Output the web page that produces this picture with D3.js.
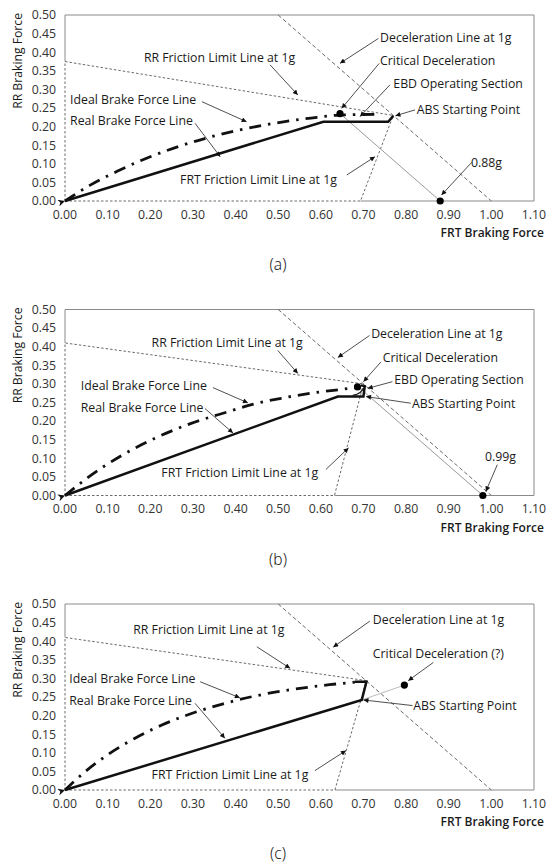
<!DOCTYPE html>
<html>
<head>
<meta charset="utf-8">
<script src="https://cdn.jsdelivr.net/npm/d3@7"></script>
<style>
  body { margin: 0; background: #fff; }
  svg text { font-family: "Open Sans", "Noto Sans", sans-serif; fill: #1a1a1a; }
</style>
</head>
<body>
<svg id="chart" width="551" height="865"></svg>
<script>
// tick values / labels
const xTicks = [0, 0.1, 0.2, 0.3, 0.4, 0.5, 0.6, 0.7, 0.8, 0.9, 1.0, 1.1];
const yTicks = [0, 0.05, 0.1, 0.15, 0.2, 0.25, 0.3, 0.35, 0.4, 0.45, 0.5];
const captions = ['(a)', '(b)', '(c)'];
const xTitle = 'FRT Braking Force';
const yTitle = 'RR Braking Force';

// deceleration line at 1g (visible part)
const decelLine = [[0.5, 0.5], [1.0, 0]];

// panel (a)
const idealA = [[0, 0], [0.058, 0.042], [0.121, 0.079], [0.187, 0.113], [0.257, 0.143], [0.331, 0.169],
  [0.409, 0.191], [0.491, 0.209], [0.577, 0.223], [0.645, 0.231], [0.739, 0.233]];
const realA = [[0, 0], [0.606, 0.213], [0.758, 0.213], [0.77, 0.229]];
const rrLimitA = [[0, 0], [0, 0.375], [0.77, 0.23]];
const frtLimitA = [[0, 0], [0.693, 0], [0.77, 0.23]];
const criticalA = [0.645, 0.235];
const gLineA = [[0.645, 0.235], [0.88, 0]];
const gPointA = [0.88, 0];

// panel (b)
const idealB = [[0, 0], [0.052, 0.047], [0.129, 0.105], [0.211, 0.154], [0.296, 0.194], [0.382, 0.225],
  [0.44, 0.245], [0.51, 0.262], [0.59, 0.277], [0.665, 0.288], [0.686, 0.292]];
const realB = [[0, 0], [0.64, 0.266], [0.70, 0.266], [0.703, 0.294], [0.694, 0.296]];
const ebdB = [[0.675, 0.269], [0.692, 0.277], [0.702, 0.29]];
const rrLimitB = [[0, 0], [0, 0.41], [0.70, 0.30]];
const frtLimitB = [[0, 0], [0.632, 0], [0.70, 0.30]];
const criticalB = [0.686, 0.292];
const gLineB = [[0.69, 0.29], [0.98, 0]];
const gPointB = [0.98, 0];

// panel (c)
const idealC = [[0, 0], [0.049, 0.051], [0.103, 0.097], [0.162, 0.138], [0.226, 0.174], [0.295, 0.205],
  [0.369, 0.231], [0.447, 0.253], [0.531, 0.27], [0.62, 0.283], [0.68, 0.29]];
const realC = [[0, 0], [0.696, 0.242], [0.707, 0.291], [0.68, 0.291]];
const rrLimitC = [[0, 0], [0, 0.41], [0.707, 0.294]];
const frtLimitC = [[0, 0], [0.633, 0], [0.707, 0.294]];
const criticalC = [0.796, 0.282];
const gLineC = [[0.696, 0.242], [0.796, 0.282]];

// annotations: label, text anchor (tx,ty), arrow from (ax,ay) to (bx,by), in data units
const notesA = [
  {label: 'RR Friction Limit Line at 1g', tx: 0.185, ty: 0.386, ax: 0.481, ay: 0.366, bx: 0.546, by: 0.285},
  {label: 'Deceleration Line at 1g', tx: 0.739, ty: 0.44, ax: 0.735, ay: 0.437, bx: 0.645, by: 0.370},
  {label: 'Critical Deceleration', tx: 0.739, ty: 0.376, ax: 0.737, ay: 0.370, bx: 0.649, by: 0.249},
  {label: 'EBD Operating Section', tx: 0.770, ty: 0.314, ax: 0.762, ay: 0.312, bx: 0.692, by: 0.227},
  {label: 'ABS Starting Point', tx: 0.825, ty: 0.245, ax: 0.821, ay: 0.245, bx: 0.775, by: 0.229},
  {label: '0.88g', tx: 0.952, ty: 0.104, ax: 0.954, ay: 0.104, bx: 0.883, by: 0.016},
  {label: 'FRT Friction Limit Line at 1g', tx: 0.270, ty: 0.056, ax: 0.661, ay: 0.070, bx: 0.727, by: 0.119},
  {label: 'Ideal Brake Force Line', tx: 0.012, ty: 0.273, ax: 0.321, ay: 0.267, bx: 0.426, by: 0.213},
  {label: 'Real Brake Force Line', tx: 0.012, ty: 0.216, ax: 0.305, ay: 0.209, bx: 0.364, by: 0.119}
];
const notesB = [
  {label: 'RR Friction Limit Line at 1g', tx: 0.203, ty: 0.410, ax: 0.499, ay: 0.390, bx: 0.546, by: 0.328},
  {label: 'Deceleration Line at 1g', tx: 0.718, ty: 0.435, ax: 0.714, ay: 0.430, bx: 0.640, by: 0.371},
  {label: 'Critical Deceleration', tx: 0.745, ty: 0.371, ax: 0.741, ay: 0.359, bx: 0.700, by: 0.306},
  {label: 'EBD Operating Section', tx: 0.772, ty: 0.310, ax: 0.768, ay: 0.306, bx: 0.710, by: 0.288},
  {label: 'ABS Starting Point', tx: 0.814, ty: 0.248, ax: 0.811, ay: 0.248, bx: 0.706, by: 0.266},
  {label: '0.99g', tx: 0.985, ty: 0.105, ax: 1.014, ay: 0.083, bx: 0.987, by: 0.011},
  {label: 'FRT Friction Limit Line at 1g', tx: 0.226, ty: 0.061, ax: 0.612, ay: 0.070, bx: 0.665, by: 0.128},
  {label: 'Ideal Brake Force Line', tx: 0.037, ty: 0.294, ax: 0.347, ay: 0.290, bx: 0.429, by: 0.249},
  {label: 'Real Brake Force Line', tx: 0.037, ty: 0.237, ax: 0.328, ay: 0.234, bx: 0.394, by: 0.168}
];
const notesC = [
  {label: 'RR Friction Limit Line at 1g', tx: 0.160, ty: 0.432, ax: 0.450, ay: 0.385, bx: 0.528, by: 0.327},
  {label: 'Deceleration Line at 1g', tx: 0.722, ty: 0.457, ax: 0.715, ay: 0.454, bx: 0.629, by: 0.384},
  {label: 'Critical Deceleration (?)', tx: 0.722, ty: 0.367, ax: 0.864, ay: 0.343, bx: 0.805, by: 0.294},
  {label: 'ABS Starting Point', tx: 0.817, ty: 0.226, ax: 0.815, ay: 0.227, bx: 0.700, by: 0.242},
  {label: 'FRT Friction Limit Line at 1g', tx: 0.203, ty: 0.040, ax: 0.586, ay: 0.052, bx: 0.659, by: 0.106},
  {label: 'Ideal Brake Force Line', tx: 0.010, ty: 0.298, ax: 0.317, ay: 0.291, bx: 0.410, by: 0.248},
  {label: 'Real Brake Force Line', tx: 0.010, ty: 0.239, ax: 0.305, ay: 0.233, bx: 0.375, by: 0.139}
];

const panels = [
  {ideal: idealA, real: realA, rr: rrLimitA, frt: frtLimitA, critical: criticalA, gLine: gLineA, gPoint: gPointA, ebd: null, notes: notesA},
  {ideal: idealB, real: realB, rr: rrLimitB, frt: frtLimitB, critical: criticalB, gLine: gLineB, gPoint: gPointB, ebd: ebdB, notes: notesB},
  {ideal: idealC, real: realC, rr: rrLimitC, frt: frtLimitC, critical: criticalC, gLine: gLineC, gPoint: null, ebd: null, notes: notesC}
];

const panelTops = [15, 309.5, 604];
const left = 65, plotW = 469, plotH = 186;

const svg = d3.select('#chart');

const defs = svg.append('defs');
defs.append('marker')
  .attr('id', 'arrow')
  .attr('viewBox', '0 0 10 10')
  .attr('refX', 10).attr('refY', 5)
  .attr('markerWidth', 7).attr('markerHeight', 5)
  .attr('markerUnits', 'userSpaceOnUse')
  .attr('orient', 'auto')
  .append('path').attr('d', 'M0,0L10,5L0,10z').attr('fill', '#111');
defs.append('marker')
  .attr('id', 'startArrow')
  .attr('viewBox', '0 0 10 10')
  .attr('refX', 0).attr('refY', 5)
  .attr('markerWidth', 10).attr('markerHeight', 7)
  .attr('markerUnits', 'userSpaceOnUse')
  .attr('orient', 'auto-start-reverse')
  .append('path').attr('d', 'M0,5L10,0L7,5L10,10z').attr('fill', '#111');

panels.forEach((p, i) => {
  const top = panelTops[i];
  const x = d3.scaleLinear().domain([0, 1.1]).range([left, left + plotW]);
  const y = d3.scaleLinear().domain([0, 0.5]).range([top + plotH, top]);
  const g = svg.append('g');
  const line = d3.line().x(d => x(d[0])).y(d => y(d[1]));
  const curve = d3.line().x(d => x(d[0])).y(d => y(d[1])).curve(d3.curveMonotoneX);

  // frame (solid parts; the parts on the axes up to the friction limits are dotted)
  const frame = [
    [[0, p.rr[1][1]], [0, 0.5]],
    [[0, 0.5], [1.1, 0.5]],
    [[1.1, 0.5], [1.1, 0]],
    [[p.frt[1][0], 0], [1.1, 0]]
  ];
  g.selectAll('.frame').data(frame).join('path')
    .attr('class', 'frame')
    .attr('d', line)
    .attr('fill', 'none').attr('stroke', '#8a8a8a').attr('stroke-width', 1);

  // tick labels
  g.append('g').selectAll('text').data(xTicks).join('text')
    .attr('x', d => x(d)).attr('y', top + plotH + 13.5)
    .attr('dy', '0.35em').attr('text-anchor', 'middle')
    .attr('font-size', 12.3).style('fill', '#333')
    .text(d => d3.format('.2f')(d));
  g.append('g').selectAll('text').data(yTicks).join('text')
    .attr('x', left - 9).attr('y', d => y(d))
    .attr('dy', '0.35em').attr('text-anchor', 'end')
    .attr('font-size', 12.3).style('fill', '#333')
    .text(d => d3.format('.2f')(d));

  // axis titles
  g.append('text')
    .attr('x', 544).attr('y', top + plotH + 32)
    .attr('dy', '0.35em').attr('text-anchor', 'end')
    .attr('font-size', 12).attr('font-weight', 600)
    .text(xTitle);
  g.append('text')
    .attr('transform', `translate(22,${top - 2}) rotate(-90)`)
    .attr('text-anchor', 'end')
    .attr('font-size', 12.2)
    .text(yTitle);

  // caption
  g.append('text')
    .attr('x', 278).attr('y', top + plotH + 64)
    .attr('dy', '0.35em').attr('text-anchor', 'middle')
    .attr('font-size', 15.5).attr('font-weight', 300)
    .style('font-family', '"Noto Sans", sans-serif')
    .text(captions[i]);

  // friction limit lines (dotted)
  [p.rr, p.frt].forEach(seg => {
    g.append('path').attr('d', line(seg))
      .attr('fill', 'none').attr('stroke', '#6a6a6a')
      .attr('stroke-width', 1).attr('stroke-dasharray', '2.5,2');
  });

  // deceleration line at 1g
  g.append('path').attr('d', line(decelLine))
    .attr('fill', 'none').attr('stroke', '#6a6a6a')
    .attr('stroke-width', 1).attr('stroke-dasharray', '4,2.5');

  // g line / critical link
  g.append('path').attr('d', line(p.gLine))
    .attr('fill', 'none').attr('stroke', i === 2 ? '#bbb' : '#9a9a9a')
    .attr('stroke-width', 1);

  // ideal brake force line
  g.append('path').attr('d', curve(p.ideal))
    .attr('fill', 'none').attr('stroke', '#111')
    .attr('stroke-width', 2.8).attr('stroke-dasharray', '12,7,2.5,7');

  // real brake force line
  g.append('path').attr('d', line(p.real))
    .attr('fill', 'none').attr('stroke', '#111')
    .attr('stroke-width', 2.5).attr('stroke-linejoin', 'miter')
    .attr('marker-start', 'url(#startArrow)');

  if (p.ebd) {
    g.append('path').attr('d', curve(p.ebd))
      .attr('fill', 'none').attr('stroke', '#111').attr('stroke-width', 1.2);
  }

  // points
  const pts = [p.critical].concat(p.gPoint ? [p.gPoint] : []);
  g.selectAll('.pt').data(pts).join('circle')
    .attr('class', 'pt')
    .attr('cx', d => x(d[0])).attr('cy', d => y(d[1]))
    .attr('r', 3.6).attr('fill', '#000');

  // annotations
  g.selectAll('.arr').data(p.notes).join('line')
    .attr('class', 'arr')
    .attr('x1', d => x(d.ax)).attr('y1', d => y(d.ay))
    .attr('x2', d => x(d.bx)).attr('y2', d => y(d.by))
    .attr('stroke', '#222').attr('stroke-width', 0.8)
    .attr('marker-end', 'url(#arrow)');
  g.selectAll('.note').data(p.notes).join('text')
    .attr('class', 'note')
    .attr('x', d => x(d.tx)).attr('y', d => y(d.ty))
    .attr('dy', '0.35em').attr('font-size', 12.3)
    .text(d => d.label);
});
</script>
</body>
</html>
